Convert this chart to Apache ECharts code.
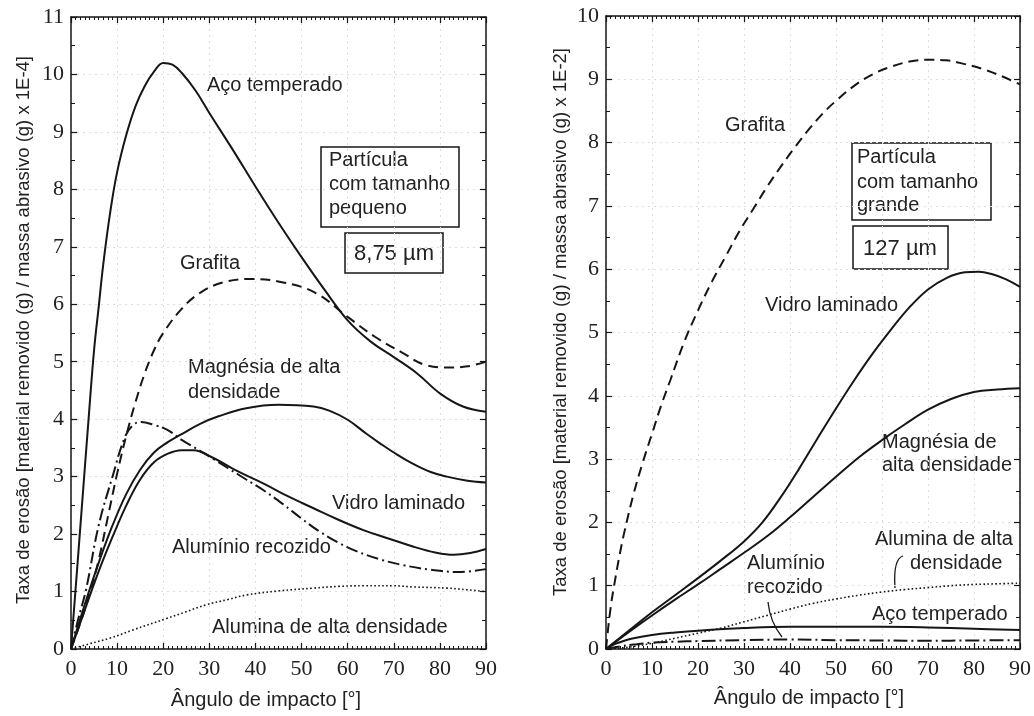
<!DOCTYPE html>
<html>
<head>
<meta charset="utf-8">
<script src="https://cdn.jsdelivr.net/npm/echarts@6/dist/echarts.min.js"></script>
<style>
  html, body { margin: 0; padding: 0; background: #ffffff; }
  #chart { width: 1034px; height: 716px; }
</style>
</head>
<body>
<div id="chart"></div>
<script>
// ---- Small particles (8,75 µm), erosion rate x 1E-4 ----
const smallAcoAng = [0, 2, 4, 5, 6, 7, 8.5, 10, 12, 14, 16, 18, 20, 22, 24, 27, 30, 35, 40, 45, 50, 55, 60, 65, 70, 75, 80, 85, 90];
const smallAcoVal = [0, 2.1, 4.2, 5.2, 5.95, 6.7, 7.6, 8.3, 8.95, 9.45, 9.8, 10.05, 10.2, 10.17, 10.03, 9.72, 9.33, 8.7, 8.05, 7.42, 6.82, 6.25, 5.72, 5.35, 5.08, 4.8, 4.45, 4.22, 4.13];

const smallGrafAng = [0, 2, 4, 6, 8, 10, 12, 14, 16, 18, 20, 24, 28, 33, 39, 46, 53, 60, 66, 72, 77, 82, 86, 90];
const smallGrafVal = [0, 0.45, 0.95, 1.55, 2.3, 3.05, 3.72, 4.3, 4.8, 5.2, 5.5, 5.92, 6.2, 6.38, 6.44, 6.38, 6.2, 5.78, 5.43, 5.15, 4.94, 4.9, 4.92, 5.0];

const smallAlumAng = [0, 1.5, 3.25, 6, 9, 11.7, 13.5, 15.2, 18, 21, 24, 28, 31, 34, 38, 42, 46, 50, 54, 58, 62, 67, 72, 78, 84, 90];
const smallAlumVal = [0, 0.5, 1.03, 2.15, 3.0, 3.69, 3.9, 3.95, 3.9, 3.81, 3.64, 3.45, 3.3, 3.15, 2.95, 2.75, 2.52, 2.27, 2.04, 1.85, 1.7, 1.56, 1.46, 1.38, 1.34, 1.39];

const smallMagAng = [0, 3, 6, 9, 12, 15, 18, 21, 24, 28, 32, 38, 45, 52.6, 56, 60, 64, 67, 70, 74, 78, 81.5, 86, 90];
const smallMagVal = [0, 0.78, 1.5, 2.15, 2.7, 3.12, 3.42, 3.6, 3.74, 3.92, 4.05, 4.19, 4.25, 4.22, 4.15, 3.99, 3.75, 3.58, 3.42, 3.23, 3.08, 3.0, 2.93, 2.9];

const smallVidAng = [0, 3, 6, 9, 12, 15, 18, 21, 24, 26.5, 31, 36, 42, 47, 52.6, 58, 63.4, 69, 74.3, 79, 83, 86.6, 90];
const smallVidVal = [0, 0.68, 1.35, 1.95, 2.5, 2.95, 3.25, 3.4, 3.46, 3.46, 3.32, 3.1, 2.87, 2.66, 2.45, 2.25, 2.07, 1.92, 1.78, 1.68, 1.64, 1.67, 1.74];

const smallAlnAng = [0, 4, 8.5, 13.4, 20.7, 25, 29.3, 34, 38, 45, 52.6, 58, 63.4, 70, 74.3, 81.5, 86, 90];
const smallAlnVal = [0, 0.09, 0.19, 0.33, 0.53, 0.65, 0.77, 0.86, 0.94, 1.01, 1.06, 1.09, 1.1, 1.1, 1.08, 1.06, 1.03, 1.0];

// ---- Large particles (127 µm), erosion rate x 1E-2 ----
const largeGrafAng = [0, 1, 2, 3, 4, 6, 8, 10, 12, 14, 17, 20, 23, 26, 29, 32, 35, 38, 41, 44, 47, 50, 54, 58, 62, 66, 70, 74, 78, 82, 86, 90];
const largeGrafVal = [0, 0.65, 1.1, 1.5, 1.85, 2.45, 2.95, 3.4, 3.85, 4.25, 4.85, 5.35, 5.8, 6.2, 6.6, 6.95, 7.3, 7.62, 7.92, 8.2, 8.45, 8.66, 8.9, 9.08, 9.2, 9.28, 9.31, 9.3, 9.24, 9.16, 9.05, 8.92];

const largeVidAng = [0, 5, 10, 15, 20, 25, 30, 34, 38, 42, 46, 50, 54, 58, 62, 66, 70, 74, 78, 81, 84, 87, 90];
const largeVidVal = [0, 0.29, 0.58, 0.85, 1.12, 1.4, 1.7, 2.0, 2.4, 2.85, 3.33, 3.8, 4.25, 4.67, 5.05, 5.4, 5.68, 5.86, 5.95, 5.96, 5.92, 5.84, 5.72];

const largeMagAng = [0, 5, 10, 15, 20, 25, 30, 35, 40, 45, 50, 55, 60, 65, 70, 75, 80, 85, 90];
const largeMagVal = [0, 0.27, 0.53, 0.78, 1.02, 1.27, 1.52, 1.78, 2.08, 2.4, 2.72, 3.03, 3.3, 3.55, 3.78, 3.95, 4.06, 4.1, 4.12];

const largeAlnAng = [0, 5, 10, 15, 20, 25, 30, 35, 40, 45, 50, 55, 60, 65, 70, 75, 80, 85, 90];
const largeAlnVal = [0, 0.03, 0.09, 0.17, 0.25, 0.33, 0.43, 0.53, 0.63, 0.72, 0.79, 0.85, 0.9, 0.94, 0.97, 1.0, 1.02, 1.03, 1.04];

const largeAcoAng = [0, 2, 4, 6, 10, 15, 20, 30, 40, 50, 60, 70, 80, 90];
const largeAcoVal = [0, 0.08, 0.13, 0.17, 0.22, 0.26, 0.29, 0.33, 0.35, 0.35, 0.35, 0.34, 0.32, 0.3];

const largeAlumAng = [0, 3, 6, 10, 15, 20, 30, 40, 50, 60, 70, 80, 90];
const largeAlumVal = [0, 0.04, 0.07, 0.1, 0.115, 0.125, 0.14, 0.15, 0.14, 0.135, 0.13, 0.135, 0.14];

const pairs = (xs, ys) => xs.map((x, i) => [x, ys[i]]);

const INK = '#161616';
const TEXT = '#222222';
const SANS = 'Liberation Sans, Arial, sans-serif';
const SERIF = 'Liberation Serif, Times New Roman, serif';

const SOLID = 'solid';
const DASHED = [10, 6];
const DASHDOT = [12, 4, 2, 4];
const DOTTED = [1.6, 2.4];

function curve(name, xs, ys, axisIdx, dash, width) {
  return {
    name: name,
    type: 'line',
    xAxisIndex: axisIdx,
    yAxisIndex: axisIdx,
    data: pairs(xs, ys),
    smooth: 0.4,
    symbol: 'none',
    silent: true,
    lineStyle: { color: INK, width: width || 2, type: dash }
  };
}

function xAxesFor(gridIndex) {
  const common = {
    gridIndex: gridIndex, type: 'value', min: 0, max: 90, interval: 10,
    axisLine: { show: true, onZero: false, lineStyle: { color: INK, width: 1.5 } },
    axisTick: { show: true, inside: true, length: 6, lineStyle: { color: INK, width: 1.2 } },
    minorTick: { show: true, splitNumber: 10, length: 3, lineStyle: { color: INK, width: 1 } }
  };
  return [
    Object.assign({}, common, {
      position: 'bottom',
      axisLabel: { show: true, margin: 9, fontFamily: SERIF, fontSize: 22, color: TEXT },
      splitLine: { show: true, lineStyle: { type: [2, 4], color: '#dedede', width: 1 } }
    }),
    Object.assign({}, common, {
      position: 'top',
      axisLabel: { show: false },
      splitLine: { show: false }
    })
  ];
}

function yAxesFor(gridIndex, maxVal) {
  const common = {
    gridIndex: gridIndex, type: 'value', min: 0, max: maxVal, interval: 1,
    axisLine: { show: true, onZero: false, lineStyle: { color: INK, width: 1.5 } },
    axisTick: { show: true, inside: true, length: 6, lineStyle: { color: INK, width: 1.2 } },
    minorTick: { show: true, splitNumber: 2, length: 4, lineStyle: { color: INK, width: 1 } }
  };
  return [
    Object.assign({}, common, {
      position: 'left',
      axisLabel: { show: true, margin: 7, fontFamily: SERIF, fontSize: 22, color: TEXT },
      splitLine: { show: true, lineStyle: { type: [2, 4], color: '#dedede', width: 1 } }
    }),
    Object.assign({}, common, {
      position: 'right',
      axisLabel: { show: false },
      splitLine: { show: false }
    })
  ];
}

function label(text, x, y, size, align) {
  return {
    type: 'text', x: x, y: y, silent: true,
    style: {
      text: text, fill: TEXT, font: (size || 20) + 'px ' + SANS,
      align: align || 'left', verticalAlign: 'middle', lineHeight: 24
    }
  };
}

function box(x, y, w, h) {
  return {
    type: 'rect', silent: true,
    shape: { x: x, y: y, width: w, height: h },
    style: { fill: '#ffffff', stroke: INK, lineWidth: 1.5 }
  };
}

const graphics = [
  // axis titles
  {
    type: 'text', x: 24, y: 330, rotation: Math.PI / 2, silent: true,
    style: { text: 'Taxa de erosão [material removido (g) / massa abrasivo (g) x 1E-4]',
      fill: TEXT, font: '18.5px ' + SANS, align: 'center', verticalAlign: 'middle' }
  },
  {
    type: 'text', x: 561, y: 322, rotation: Math.PI / 2, silent: true,
    style: { text: 'Taxa de erosão [material removido (g) / massa abrasivo (g) x 1E-2]',
      fill: TEXT, font: '18.5px ' + SANS, align: 'center', verticalAlign: 'middle' }
  },
  label('Ângulo de impacto [°]', 266, 700, 20, 'center'),
  label('Ângulo de impacto [°]', 809, 698, 20, 'center'),

  // small-particle panel
  label('Aço temperado', 207, 85),
  label('Grafita', 180, 263),
  label('Magnésia de alta', 188, 367),
  label('densidade', 188, 392),
  label('Vidro laminado', 332, 503),
  label('Alumínio recozido', 172, 547),
  label('Alumina de alta densidade', 212, 627),
  box(321, 147, 138, 80),
  label('Partícula', 329, 160),
  label('com tamanho', 329, 184),
  label('pequeno', 329, 208),
  box(345, 233, 98, 40),
  label('8,75 µm', 394, 254, 22, 'center'),

  // large-particle panel
  label('Grafita', 725, 125),
  label('Vidro laminado', 765, 305),
  label('Magnésia de', 882, 442),
  label('alta densidade', 882, 465),
  label('Alumina de alta', 875, 539),
  label('densidade', 910, 563),
  label('Alumínio', 747, 563),
  label('recozido', 747, 587),
  label('Aço temperado', 872, 614),
  box(852, 143, 139, 77),
  label('Partícula', 857, 157),
  label('com tamanho', 857, 182),
  label('grande', 857, 205),
  box(853, 226, 95, 43),
  label('127 µm', 900, 249, 22, 'center'),

  // leader lines
  {
    type: 'bezierCurve', silent: true,
    shape: { x1: 903, y1: 556, cpx1: 893, cpy1: 559, x2: 895, y2: 588 },
    style: { stroke: INK, lineWidth: 1.3, fill: null }
  },
  {
    type: 'bezierCurve', silent: true,
    shape: { x1: 768, y1: 602, cpx1: 770, cpy1: 622, x2: 782, y2: 637 },
    style: { stroke: INK, lineWidth: 1.3, fill: null }
  }
];

const chart = echarts.init(document.getElementById('chart'), null, { renderer: 'canvas' });
chart.setOption({
  animation: false,
  backgroundColor: '#ffffff',
  grid: [
    { left: 71, top: 17, width: 415, height: 632, containLabel: false },
    { left: 606, top: 16, width: 414, height: 633, containLabel: false }
  ],
  xAxis: xAxesFor(0).concat(xAxesFor(1)),
  yAxis: yAxesFor(0, 11).concat(yAxesFor(1, 10)),
  series: [
    curve('Aço temperado', smallAcoAng, smallAcoVal, 0, SOLID),
    curve('Grafita', smallGrafAng, smallGrafVal, 0, DASHED),
    curve('Alumínio recozido', smallAlumAng, smallAlumVal, 0, DASHDOT),
    curve('Magnésia de alta densidade', smallMagAng, smallMagVal, 0, SOLID),
    curve('Vidro laminado', smallVidAng, smallVidVal, 0, SOLID),
    curve('Alumina de alta densidade', smallAlnAng, smallAlnVal, 0, DOTTED, 1.6),

    curve('Grafita', largeGrafAng, largeGrafVal, 2, DASHED),
    curve('Vidro laminado', largeVidAng, largeVidVal, 2, SOLID),
    curve('Magnésia de alta densidade', largeMagAng, largeMagVal, 2, SOLID),
    curve('Alumina de alta densidade', largeAlnAng, largeAlnVal, 2, DOTTED, 1.6),
    curve('Aço temperado', largeAcoAng, largeAcoVal, 2, SOLID),
    curve('Alumínio recozido', largeAlumAng, largeAlumVal, 2, [14, 4, 2, 4])
  ],
  graphic: graphics
});
</script>
</body>
</html>
